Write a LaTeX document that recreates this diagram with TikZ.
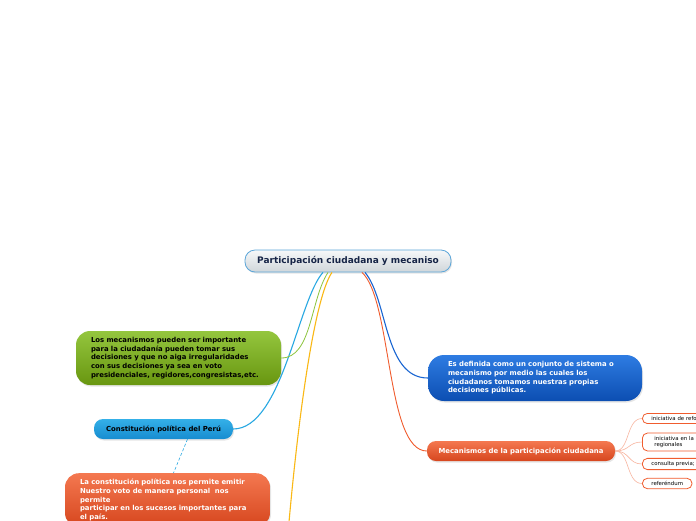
\documentclass[tikz,border=0pt]{standalone}
\usepackage{fontspec}
\setmainfont{DejaVu Sans}
\usetikzlibrary{positioning,shadows}
\definecolor{titletop}{RGB}{246,248,249}
\definecolor{titlebot}{RGB}{208,214,218}
\definecolor{titleline}{RGB}{92,166,217}
\definecolor{titletext}{RGB}{22,36,70}
\definecolor{greentop}{RGB}{148,198,62}
\definecolor{greenbot}{RGB}{104,150,16}
\definecolor{greenline}{RGB}{140,196,60}
\definecolor{skytop}{RGB}{52,176,232}
\definecolor{skybot}{RGB}{22,140,208}
\definecolor{skyline}{RGB}{40,168,226}
\definecolor{bluetop}{RGB}{46,124,226}
\definecolor{bluebot}{RGB}{12,78,178}
\definecolor{blueline}{RGB}{26,102,210}
\definecolor{redtop}{RGB}{244,120,80}
\definecolor{redbot}{RGB}{214,70,30}
\definecolor{redline}{RGB}{240,92,46}
\definecolor{goldline}{RGB}{250,184,20}

\tikzset{
  topic/.style={rounded corners=9pt,align=left,inner ysep=5pt,
    drop shadow={opacity=0.2,shadow xshift=1pt,shadow yshift=-1.5pt},
    font=\bfseries\fontsize{6.9}{8.7}\selectfont},
  greenbox/.style={topic,top color=greentop,bottom color=greenbot,text=black,rounded corners=14pt},
  skybox/.style={topic,top color=skytop,bottom color=skybot,text=black},
  bluebox/.style={topic,top color=bluetop,bottom color=bluebot,text=white,rounded corners=16pt},
  redbox/.style={topic,top color=redtop,bottom color=redbot,text=white},
  leafbox/.style={draw=redline,line width=0.8pt,fill=white,rounded corners=5pt,align=left,
    inner xsep=9pt,inner ysep=3pt,font=\fontsize{5.4}{6.6}\selectfont,anchor=west},
  leafwide/.style={leafbox,text width=62pt},
  branch/.style={line width=1.1pt},
  twig/.style={draw=redline!45,line width=0.6pt}
}

\begin{document}
\begin{tikzpicture}[x=1pt,y=-1pt]
\clip (0,0) rectangle (696,520);
\fill[white] (0,0) rectangle (696,520);

\node[topic,draw=titleline,line width=0.8pt,top color=titletop,bottom color=titlebot,
  minimum width=206pt,minimum height=22pt,rounded corners=10pt,text=titletext,
  font=\bfseries\fontsize{9}{10}\selectfont] (title) at (348,261)
  {Participación ciudadana y mecaniso};

\node[greenbox,text width=175pt,inner xsep=15pt,minimum height=54pt] (mech) at (178.5,358)
  {Los mecanismos pueden ser importante\\para la ciudadanía pueden tomar sus\\decisiones y que no aiga irregularidades\\con sus decisiones ya sea en voto\\presidenciales, regidores,congresistas,etc.};

\node[skybox,minimum width=139pt,minimum height=20pt] (const) at (163.5,429)
  {Constitución política del Perú};

\node[redbox,text width=175pt,inner xsep=15pt,inner ysep=6pt,anchor=north,rounded corners=14pt] (vote) at (167.5,473)
  {La constitución política nos permite emitir\\Nuestro voto de manera personal~~nos\\permite\\participar en los sucesos importantes para\\el país.};

\node[bluebox,text width=174pt,inner xsep=20pt,minimum height=46pt] (defn) at (535,378)
  {Es definida como un conjunto de sistema o\\mecanismo por medio las cuales los\\ciudadanos tomamos nuestras propias\\decisiones públicas.};

\node[redbox,minimum width=188pt,minimum height=20pt] (parts) at (521,451)
  {Mecanismos de la participación ciudadana};

\node[leafwide] (leafa) at (642,418.5) {iniciativa de refo};
\node[leafwide,inner xsep=12pt] (leafb) at (642,442) {iniciativa en la\\regionales};
\node[leafbox] (leafc) at (642,464) {consulta previa;};
\node[leafbox] (leafd) at (642,483.5) {referéndum};

\draw[branch,skyline] ([xshift=-25pt]title.south) .. controls (298,300) and (282,429) .. (const.east);
\draw[branch,greenline,line width=0.8pt] ([xshift=-20pt]title.south) .. controls (310,300) and (312,358) .. (mech.east);
\draw[branch,goldline] ([xshift=-16pt]title.south) .. controls (316,295) and (300,400) .. (289,522);
\draw[branch,blueline] ([xshift=17pt]title.south) .. controls (388,300) and (384,378) .. (defn.west);
\draw[branch,redline,line width=0.9pt] ([xshift=14pt]title.south) .. controls (392,300) and (386,451) .. (parts.west);
\draw[skyline,densely dashed,line width=0.6pt] ([xshift=24pt]const.south) -- ([xshift=6pt]vote.north);

\draw[twig] (parts.east) .. controls (630,451) and (626,418.5) .. (leafa.west);
\draw[twig] (parts.east) .. controls (630,451) and (628,442) .. (leafb.west);
\draw[twig] (parts.east) .. controls (630,451) and (628,464) .. (leafc.west);
\draw[twig] (parts.east) .. controls (630,451) and (626,483.5) .. (leafd.west);
\end{tikzpicture}
\end{document}
